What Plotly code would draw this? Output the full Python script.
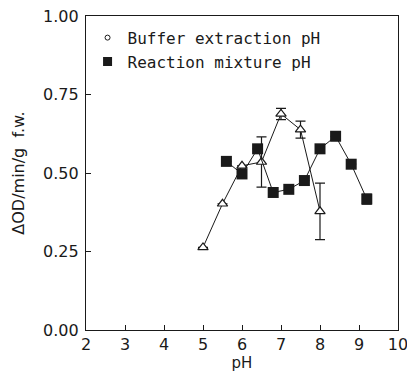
import plotly.graph_objects as go

# Buffer extraction pH (open triangles)
buf_ph = [5.0, 5.5, 6.0, 6.5, 7.0, 7.5, 8.0]
buf_val = [0.263, 0.402, 0.523, 0.535, 0.688, 0.638, 0.378]
buf_err = [0, 0, 0, 0.08, 0.018, 0.027, 0.09]

# Reaction mixture pH (filled squares)
rxn_ph = [5.6, 6.0, 6.4, 6.8, 7.2, 7.6, 8.0, 8.4, 8.8, 9.2]
rxn_val = [0.537, 0.497, 0.577, 0.438, 0.448, 0.476, 0.577, 0.617, 0.528, 0.417]
rxn_err = [0, 0, 0, 0, 0, 0, 0, 0, 0, 0.016]

legend_labels = ["Buffer extraction pH", "Reaction mixture pH"]
x_ticks = [2, 3, 4, 5, 6, 7, 8, 9, 10]
y_ticks = [0.0, 0.25, 0.5, 0.75, 1.0]
y_ticklabels = ["0.00", "0.25", "0.50", "0.75", "1.00"]

ink = "#1a1a1a"
fig = go.Figure()

fig.add_trace(go.Scatter(
    x=buf_ph, y=buf_val, mode="lines+markers", showlegend=False,
    line=dict(color=ink, width=1),
    marker=dict(symbol="triangle-up", size=9, color="white", line=dict(color=ink, width=1.2)),
    error_y=dict(type="data", array=buf_err, color=ink, thickness=1.2, width=5),
))
fig.add_trace(go.Scatter(
    x=rxn_ph, y=rxn_val, mode="lines+markers", showlegend=False,
    line=dict(color=ink, width=1),
    marker=dict(symbol="square", size=11, color=ink, line=dict(color=ink, width=0)),
    error_y=dict(type="data", array=rxn_err, color=ink, thickness=1.2, width=5),
))
# legend entries
fig.add_trace(go.Scatter(
    x=[None], y=[None], mode="markers", name=legend_labels[0],
    marker=dict(symbol="circle-open", size=5, color=ink, line=dict(width=1)),
))
fig.add_trace(go.Scatter(
    x=[None], y=[None], mode="markers", name=legend_labels[1],
    marker=dict(symbol="square", size=9, color=ink),
))

axis_common = dict(
    showline=True, linecolor=ink, linewidth=1.2, mirror=True,
    ticks="inside", ticklen=5, tickwidth=1.2, tickcolor=ink,
    showgrid=False, zeroline=False, ticklabeloverflow="allow", automargin=False,
    tickfont=dict(family="DejaVu Sans", size=16, color=ink),
)

fig.update_layout(
    width=407, height=377,
    margin=dict(l=86, r=9, t=16, b=47, autoexpand=False),
    paper_bgcolor="white", plot_bgcolor="white",
    font=dict(family="DejaVu Sans", color=ink),
    xaxis=dict(range=[2, 10], tickvals=x_ticks, ticklabelstandoff=0,
               title=dict(text="pH", font=dict(size=15, color=ink), standoff=4),
               **axis_common),
    yaxis=dict(range=[0, 1], tickvals=y_ticks, ticktext=y_ticklabels, ticklabelstandoff=3,
               title=dict(text="ΔOD/min/g  f.w.", font=dict(size=16, color=ink), standoff=14),
               **axis_common),
    legend=dict(x=0.005, y=0.985, xanchor="left", yanchor="top",
                bgcolor="rgba(0,0,0,0)", borderwidth=0,
                font=dict(family="DejaVu Sans Mono", size=16, color=ink),
                itemwidth=30, tracegroupgap=0),
)

fig.write_html("out.html")
